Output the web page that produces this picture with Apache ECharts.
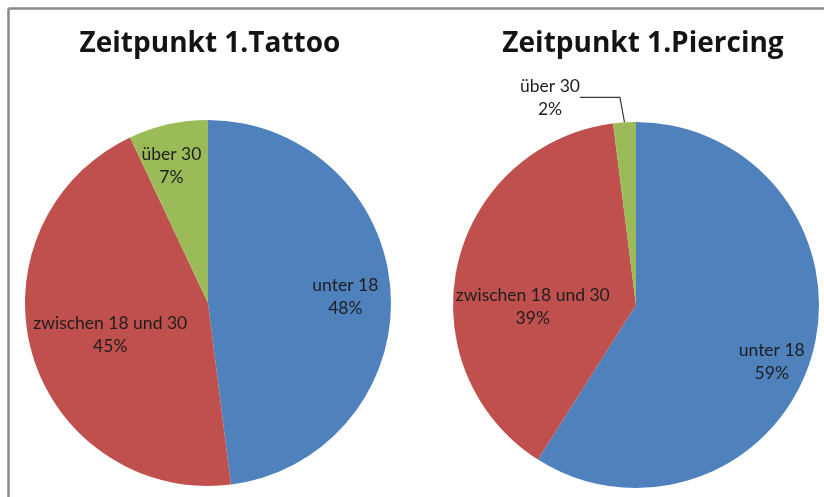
<!DOCTYPE html>
<html>
<head>
<meta charset="utf-8">
<script src="https://cdn.jsdelivr.net/npm/echarts@6/dist/echarts.min.js"></script>
<style>
html,body{margin:0;padding:0;background:#fff;overflow:hidden;}
#chart{width:824px;height:497px;}
</style>
</head>
<body>
<div id="chart"></div>
<script>
const categories = ['unter 18', 'zwischen 18 und 30', 'über 30'];
const tattooValues = [48, 45, 7];
const piercingValues = [59, 39, 2];
const titles = ['Zeitpunkt 1.Tattoo', 'Zeitpunkt 1.Piercing'];
const colors = ['#4F81BD', '#C0504D', '#9BBB59'];

const FONT = 'Lato, "Open Sans", sans-serif';
const TITLE_FONT = '"Open Sans", Lato, sans-serif';
const R = 183;

function buildData(values, offsets, outsideIdx) {
  return categories.map((name, i) => {
    const item = { name: name, value: values[i], itemStyle: { color: colors[i] } };
    if (i === outsideIdx) {
      item.label = { position: 'outside', distanceToLabelLine: 3 };
      item.labelLine = { show: true, length: 25, length2: 40,
        lineStyle: { color: '#3a3a3a', width: 1.2 } };
    } else {
      item.label = { offset: offsets[i] };
    }
    return item;
  });
}

const chart = echarts.init(document.getElementById('chart'), null, { renderer: 'canvas' });
const commonLabel = {
  show: true,
  position: 'inside',
  formatter: '{b}\n{c}%',
  color: '#1e1e1e',
  fontFamily: FONT,
  fontSize: 17.5,
  lineHeight: 23,
  align: 'center'
};
chart.setOption({
  animation: false,
  backgroundColor: '#ffffff',
  graphic: [
    { type: 'line', shape: { x1: 8.5, y1: 8.5, x2: 8.5, y2: 497 },
      style: { stroke: '#8a8a8a', lineWidth: 2.5 }, silent: true },
    { type: 'line', shape: { x1: 8.5, y1: 8.5, x2: 824, y2: 8.5 },
      style: { stroke: '#8a8a8a', lineWidth: 2.5 }, silent: true }
  ],
  title: [
    { text: titles[0], left: 205, top: 25, textAlign: 'center',
      textStyle: { fontFamily: TITLE_FONT, fontWeight: 'bold', fontSize: 28, color: '#141414' } },
    { text: titles[1], left: 638, top: 25, textAlign: 'center',
      textStyle: { fontFamily: TITLE_FONT, fontWeight: 'bold', fontSize: 28, color: '#141414' } }
  ],
  series: [
    {
      type: 'pie',
      center: [208, 303],
      radius: R,
      startAngle: 90,
      clockwise: true,
      avoidLabelOverlap: false,
      silent: true,
      label: commonLabel,
      labelLine: { show: false },
      emphasis: { disabled: true },
      data: buildData(tattooValues, [[43, 0], [-7, 5], [-16, -45]], -1)
    },
    {
      type: 'pie',
      center: [636, 305],
      radius: R,
      startAngle: 90,
      clockwise: true,
      avoidLabelOverlap: false,
      silent: true,
      label: commonLabel,
      labelLine: { show: false },
      emphasis: { disabled: true },
      labelLayout: function (params) {
        if (params.dataIndex === 2) {
          return { x: params.labelRect.x + params.labelRect.width / 2, align: 'center' };
        }
        return {};
      },
      data: buildData(piercingValues, [[45, 30], [-11, 22], [0, 0]], 2)
    }
  ]
});
</script>
</body>
</html>
